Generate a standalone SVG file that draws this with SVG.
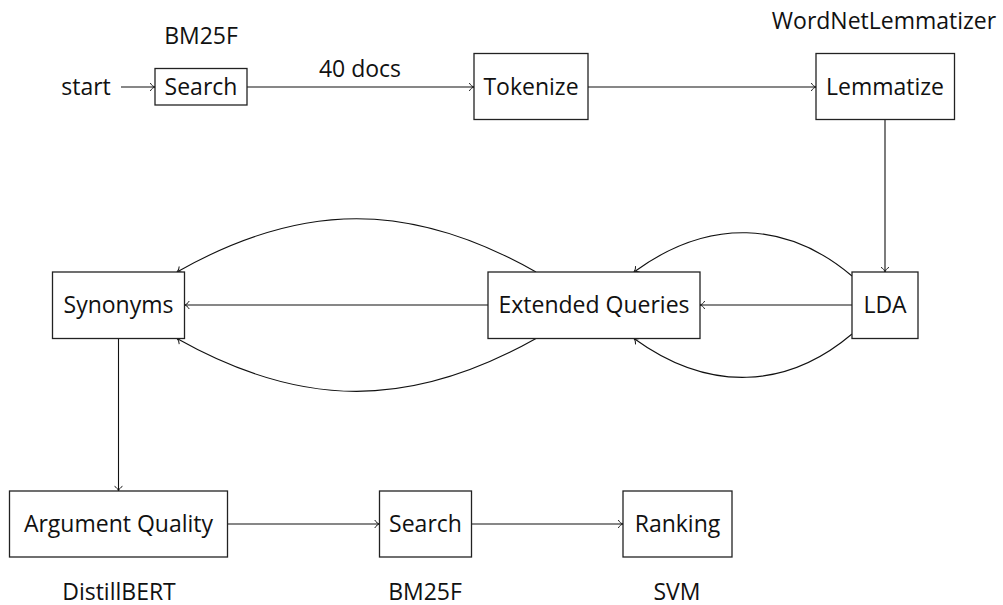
<svg xmlns="http://www.w3.org/2000/svg" width="1003" height="605" viewBox="0 0 1003 605">
  <style>
    .box { fill: #ffffff; stroke: #222222; stroke-width: 1.3; }
    .lbl { font-family: "Open Sans", "Noto Sans", sans-serif; font-size: 23px; fill: #111111; text-anchor: middle; }
    .edge { fill: none; stroke: #111111; stroke-width: 1.1; marker-end: url(#to); }
  </style>
  <defs>
    <marker id="to" markerUnits="userSpaceOnUse" viewBox="-6 -5 7 10" refX="0" refY="0" markerWidth="7" markerHeight="10" orient="auto" overflow="visible">
      <path d="M-4.5,-3.6 C-3.4,-1.6 -1.6,-0.5 0,0 C-1.6,0.5 -3.4,1.6 -4.5,3.6" fill="none" stroke="#111111" stroke-width="1" stroke-linecap="round"/>
    </marker>
  </defs>

  <g id="connectors">
    <path class="edge" d="M121,87 H155"/>
    <path class="edge" d="M247,87 H474"/>
    <path class="edge" d="M588,87 H816"/>
    <path class="edge" d="M885,119.5 V272"/>
    <path class="edge" d="M852,305 H700"/>
    <path class="edge" d="M852,276 C787,221 709,217 634,272"/>
    <path class="edge" d="M852,334 C787,389 709,393 634,338.5"/>
    <path class="edge" d="M488,305 H184.5"/>
    <path class="edge" d="M536,272 C411,201 302,201 177,272"/>
    <path class="edge" d="M536,338.5 C411,409 302,409 177,338.5"/>
    <path class="edge" d="M118.5,338.5 V491"/>
    <path class="edge" d="M227.5,524 H379.5"/>
    <path class="edge" d="M471.5,524 H623"/>
  </g>

  <g id="start">
    <text class="lbl" x="86" y="95">start</text>
  </g>

  <g id="search1">
    <rect class="box" x="155" y="68.5" width="92" height="36.5"/>
    <text class="lbl" x="201" y="95">Search</text>
    <text class="lbl" x="201" y="44">BM25F</text>
  </g>

  <g id="label-40docs">
    <text class="lbl" x="360" y="77">40 docs</text>
  </g>

  <g id="tokenize">
    <rect class="box" x="474" y="53.5" width="114" height="66"/>
    <text class="lbl" x="531" y="95">Tokenize</text>
  </g>

  <g id="lemmatize">
    <rect class="box" x="816" y="53.5" width="138.5" height="66"/>
    <text class="lbl" x="885" y="95">Lemmatize</text>
    <text class="lbl" x="884" y="29">WordNetLemmatizer</text>
  </g>

  <g id="lda">
    <rect class="box" x="852" y="272" width="66" height="66.5"/>
    <text class="lbl" x="885" y="313">LDA</text>
  </g>

  <g id="extended">
    <rect class="box" x="488" y="272" width="212" height="66.5"/>
    <text class="lbl" x="594" y="313">Extended Queries</text>
  </g>

  <g id="synonyms">
    <rect class="box" x="52.5" y="272" width="132" height="66.5"/>
    <text class="lbl" x="118.5" y="313">Synonyms</text>
  </g>

  <g id="argument-quality">
    <rect class="box" x="9.5" y="491" width="218" height="66"/>
    <text class="lbl" x="118.5" y="532">Argument Quality</text>
    <text class="lbl" x="119" y="600">DistillBERT</text>
  </g>

  <g id="search2">
    <rect class="box" x="379.5" y="491" width="92" height="66"/>
    <text class="lbl" x="425.5" y="532">Search</text>
    <text class="lbl" x="425" y="600">BM25F</text>
  </g>

  <g id="ranking">
    <rect class="box" x="623" y="491" width="109" height="66"/>
    <text class="lbl" x="677.5" y="532">Ranking</text>
    <text class="lbl" x="677" y="600">SVM</text>
  </g>
</svg>
